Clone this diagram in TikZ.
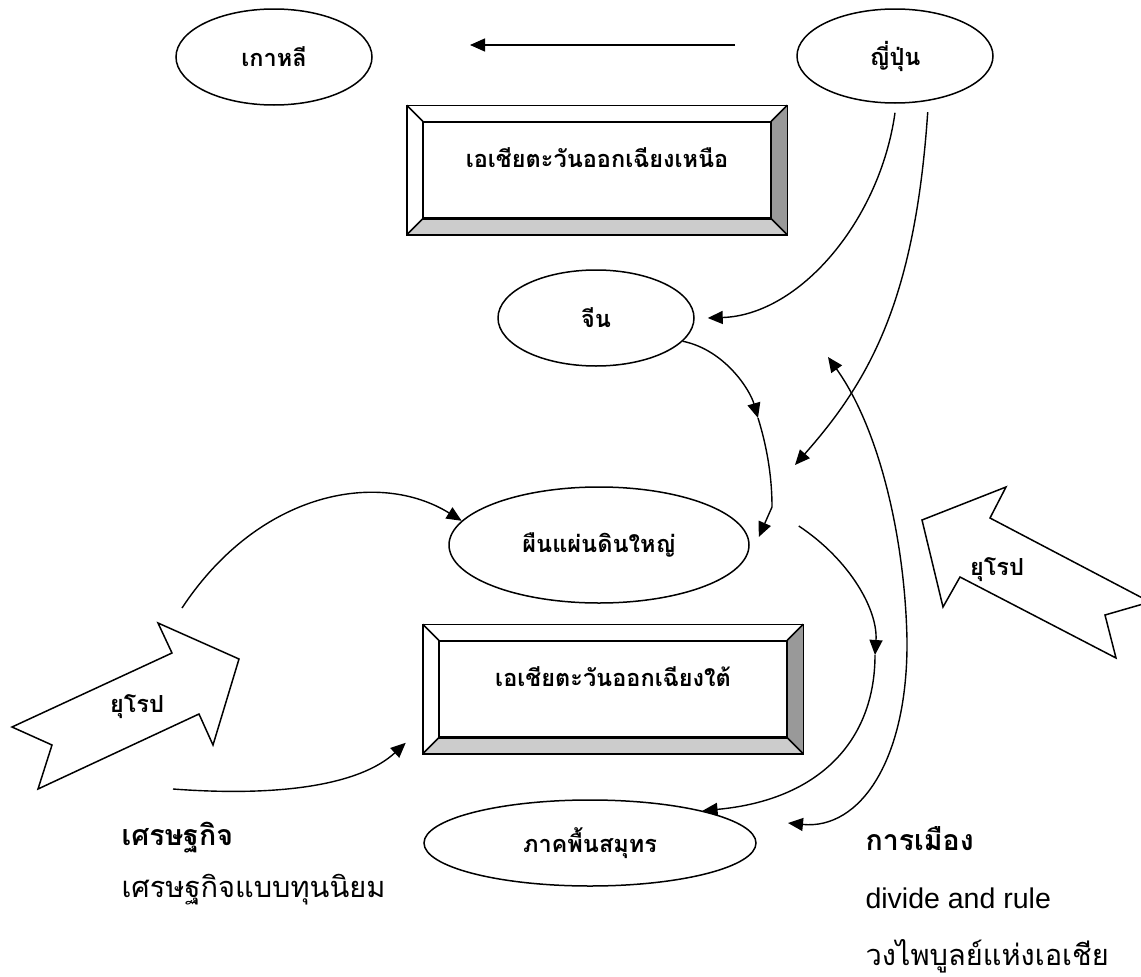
\documentclass[tikz,border=0pt]{standalone}
\usepackage{fontspec}
\setmainfont{Liberation Sans}
\newfontfamily\thaifont[Script=Thai]{Loma}
\usetikzlibrary{shapes.geometric,arrows.meta}
\begin{document}
\begin{tikzpicture}[x=1pt,y=-1pt,
		bubble/.style={draw,ellipse,line width=1.5pt,inner sep=0pt,font=\thaifont\bfseries\fontsize{23.5}{28}\selectfont},
		panel/.style={draw,line width=1.5pt,minimum width=347pt,minimum height=96pt,inner sep=0pt},
		lbl/.style={font=\thaifont\bfseries\fontsize{23.5}{28}\selectfont},
		conn/.style={line width=1.4pt,-{Triangle[length=15pt,width=13pt]}},
		europe/.style={draw,line width=1.5pt,line join=miter},
		head/.style={anchor=base west,font=\thaifont\bfseries\fontsize{28.5}{34}\selectfont},
		note/.style={anchor=base west,font=\thaifont\fontsize{29}{34}\selectfont}]
	\useasboundingbox (0,0) rectangle (1141,977);
	\node[bubble,minimum width=196pt,minimum height=96pt] (korea) at (274,57) {เกาหลี};
	\node[bubble,minimum width=196pt,minimum height=94pt] (japan) at (895,56) {ญี่ปุ่น};
	\node[bubble,minimum width=196pt,minimum height=96pt] (china) at (596,318) {จีน};
	\node[bubble,minimum width=300pt,minimum height=116pt] (mainland) at (599,545) {ผืนแผ่นดินใหญ่};
	\node[bubble,minimum width=332pt,minimum height=86pt] (ocean) at (590,843) {ภาคพื้นสมุทร};
	\node[panel] (nebox) at (597,170) {};
	\node[panel] (sebox) at (613,689) {};
	\foreach \bx in {nebox,sebox}{
		\fill[gray!40] (\bx.south west) -- (\bx.south east) -- ([shift={(16,16)}]\bx.south east) -- ([shift={(-16,16)}]\bx.south west) -- cycle;
		\fill[gray!80] (\bx.north east) -- ([shift={(16,-16)}]\bx.north east) -- ([shift={(16,16)}]\bx.south east) -- (\bx.south east) -- cycle;
		\draw[line width=1.5pt] ([shift={(-16,-16)}]\bx.north west) rectangle ([shift={(16,16)}]\bx.south east);
		\draw[line width=1.5pt] (\bx.north west) rectangle (\bx.south east);
		\draw[line width=1.5pt] (\bx.north west) -- ++(-16,-16) (\bx.north east) -- ++(16,-16) (\bx.south east) -- ++(16,16) (\bx.south west) -- ++(-16,16);
	}
	\node[lbl] (netext) at ([yshift=12pt]nebox.center) {เอเชียตะวันออกเฉียงเหนือ};
	\node[lbl] (setext) at ([yshift=12pt]sebox.center) {เอเชียตะวันออกเฉียงใต้};
	\draw[europe] (239,659) -- (158,623) -- (172,653) -- (12,727) -- (52,745) -- (38,789) -- (199,714) -- (213,745) -- cycle;
	\node[lbl] (euwest) at (137,707) {ยุโรป};
	\draw[europe] (922,520) -- (1006,487) -- (990,518) -- (1150,602) -- (1105,615) -- (1116,658) -- (960,577) -- (943,607) -- cycle;
	\node[lbl] (eueast) at (997,570) {ยุโรป};
	\coordinate (topfrom) at (735,45);
	\coordinate (topto) at (470,45);
	\coordinate (jpdrop) at (795,465);
	\coordinate (chinabend) at (758,418);
	\coordinate (ecotop) at (182,608);
	\coordinate (ecolow) at (173,789);
	\coordinate (dip) at (875,655);
	\coordinate (loopup) at (828,357);
	\coordinate (loopdown) at (788,823);
	\draw[conn] (topfrom) -- (topto);
	\draw[conn] ([yshift=-9pt]japan.south) .. controls (880,220) and (800,315) .. ([xshift=13pt]china.east);
	\draw[conn] ([yshift=-11pt]japan.-54) .. controls (915,300) and (870,380) .. (jpdrop);
	\draw[conn] (china.-15) .. controls (725,350) and (750,390) .. (chinabend);
	\draw[conn] (chinabend) .. controls (768,450) and (772,480) .. (772,507) -- ([shift={(9,-8)}]mainland.east);
	\draw[conn] (ecotop) .. controls (260,490) and (380,470) .. (mainland.170);
	\draw[conn] (ecolow) .. controls (280,797) and (360,785) .. ([shift={(-33,5)}]sebox.south west);
	\draw[conn] ([shift={(49,-19)}]mainland.east) .. controls (850,560) and (878,610) .. (dip);
	\draw[conn] (dip) .. controls (875,740) and (820,800) .. (ocean.16);
	\draw[line width=1.4pt,{Triangle[length=15pt,width=13pt]}-{Triangle[length=15pt,width=13pt]}] (loopup) .. controls (880,430) and (905,540) .. (907,640) .. controls (908,760) and (860,830) .. (loopdown);
	\node[head] (econ) at (118,845) {เศรษฐกิจ};
	\node[note] (econnote) at (118,897) {เศรษฐกิจแบบทุนนิยม};
	\node[head] (politics) at (862,850) {การเมือง};
	\node[note,font=\fontsize{28.5}{34}\selectfont] (polnote) at (862,908) {divide and rule};
	\node[note] (polnote2) at (862,965) {วงไพบูลย์แห่งเอเชีย};
\end{tikzpicture}
\end{document}
